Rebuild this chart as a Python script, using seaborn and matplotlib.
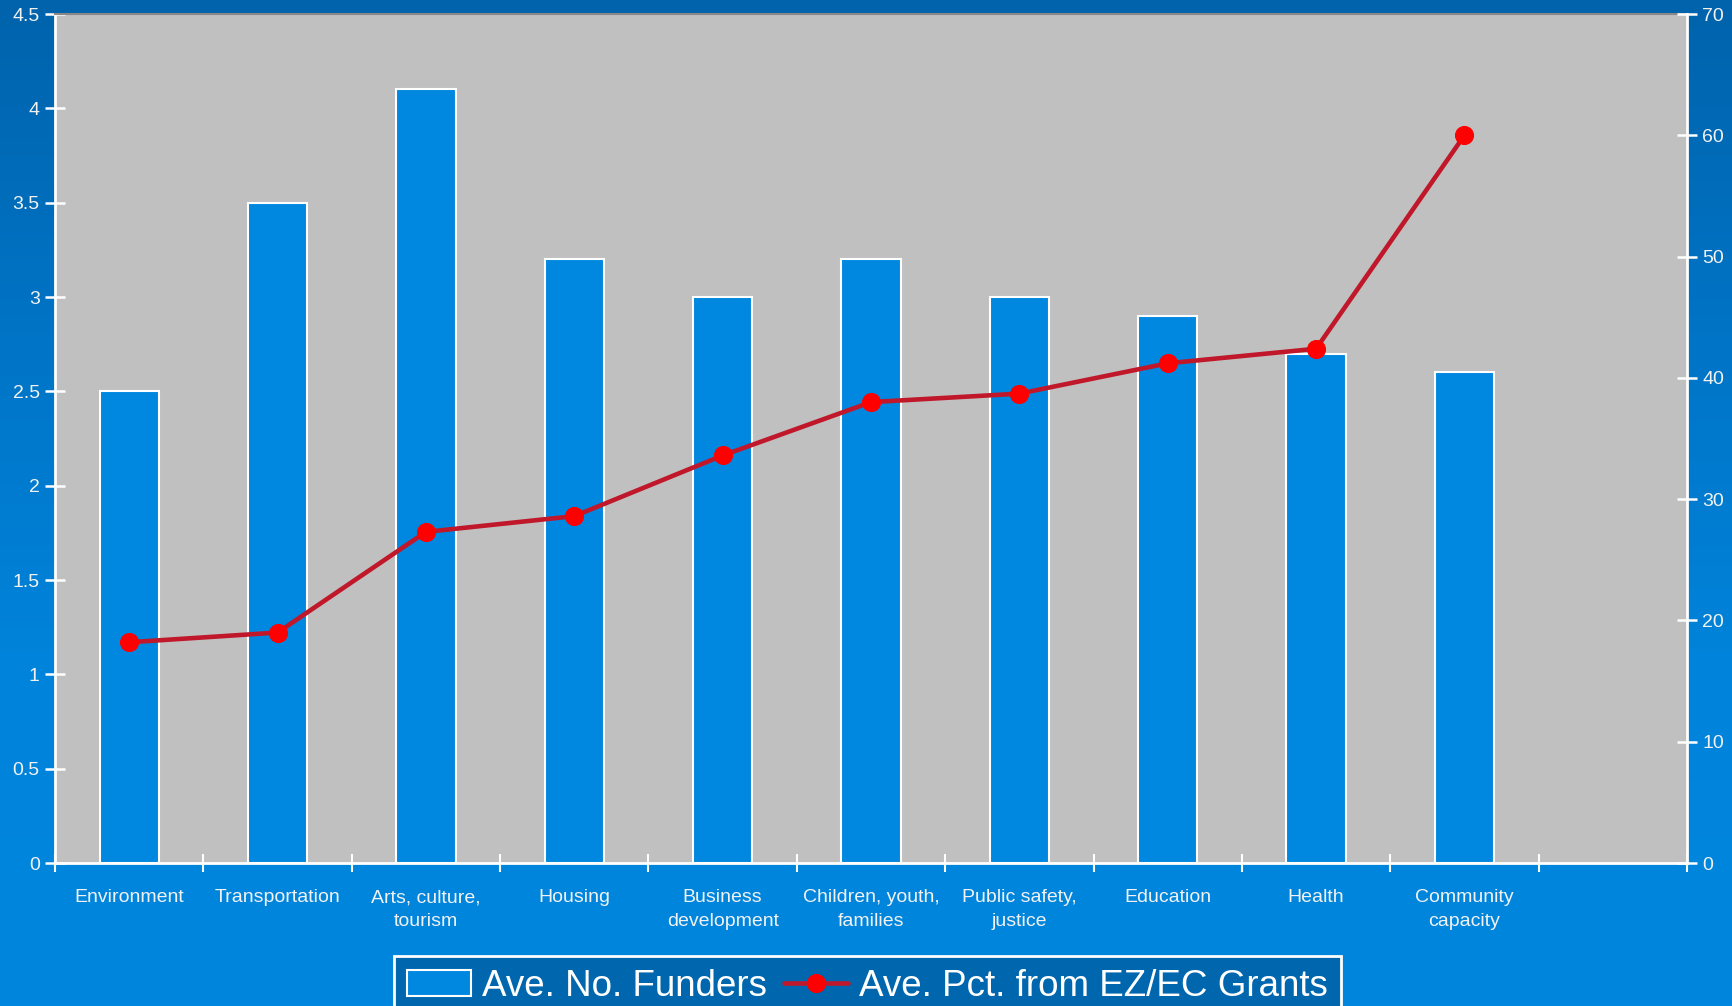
import numpy as np
import pandas as pd
import matplotlib
matplotlib.use("Agg")
import matplotlib.pyplot as plt
from matplotlib.colors import LinearSegmentedColormap
from matplotlib.ticker import FixedLocator
import seaborn as sns

categories = ["Environment", "Transportation", "Arts, culture,\ntourism", "Housing",
              "Business\ndevelopment", "Children, youth,\nfamilies", "Public safety,\njustice",
              "Education", "Health", "Community\ncapacity"]
funders = [2.5, 3.5, 4.1, 3.2, 3.0, 3.2, 3.0, 2.9, 2.7, 2.6]
pct_grants = [18.2, 19.0, 27.3, 28.6, 33.6, 38.0, 38.7, 41.2, 42.4, 60.0]
left_ticks = [0, 0.5, 1, 1.5, 2, 2.5, 3, 3.5, 4, 4.5]
left_tick_labels = ["0", "0.5", "1", "1.5", "2", "2.5", "3", "3.5", "4", "4.5"]
right_ticks = [0, 10, 20, 30, 40, 50, 60, 70]

df = pd.DataFrame({"category": categories, "funders": funders,
                   "pct": pct_grants, "pos": np.arange(len(categories))})

sns.set_theme(style="white")
plt.rcParams['font.family'] = ['Liberation Sans', 'DejaVu Sans']

W, H = 1733, 1006
fig = plt.figure(figsize=(W / 100, H / 100), dpi=100)

# background gradient
bg = fig.add_axes([0, 0, 1, 1], zorder=-10)
cmap = LinearSegmentedColormap.from_list("bg", ["#0063AC", "#0074C6", "#0084DB", "#0086DE"])
grad = np.linspace(0, 1, 256).reshape(-1, 1)
bg.imshow(grad, cmap=cmap, aspect="auto", extent=[0, 1, 0, 1], origin="upper")
bg.set_axis_off()

ax = fig.add_axes([55 / W, 1 - 863 / H, (1687 - 55) / W, (863 - 14) / H])
ax.set_facecolor("#C0C0C0")

sns.barplot(data=df, x="category", y="funders", ax=ax, color="#0088E0",
            saturation=1, width=0.4, edgecolor="white", linewidth=1.5,
            label="Ave. No. Funders")
ax.set_xlim(-0.5, 10.5)
ax.set_ylim(0, 4.5)
ax.set_xlabel("")
ax.set_ylabel("")

ax2 = ax.twinx()
sns.lineplot(data=df, x="pos", y="pct", ax=ax2, color="#C0182A", linewidth=3.3,
             marker="o", markersize=13, markerfacecolor="#FF0000",
             markeredgecolor="#FF0000", label="Ave. Pct. from EZ/EC Grants")
ax2.set_ylim(0, 70)
ax2.set_xlim(-0.5, 10.5)
ax2.set_ylabel("")
ax2.set_xlabel("")
if ax2.get_legend():
    ax2.get_legend().remove()
if ax.get_legend():
    ax.get_legend().remove()

tick_col = "white"
lab_col = "#F2F2F2"

# x ticks: labels at centres, marks at boundaries
ax.xaxis.set_major_locator(FixedLocator(list(range(len(categories)))))
ax.set_xticklabels(categories, color=lab_col, fontsize=14, linespacing=1.5)
ax.xaxis.set_minor_locator(FixedLocator(list(np.arange(-0.5, 11, 1.0))))
ax.tick_params(axis="x", which="major", length=0, pad=19)
ax.tick_params(axis="x", which="minor", length=13, width=1.5, direction="inout",
               color=tick_col, bottom=True)

ax.set_yticks(left_ticks)
ax.set_yticklabels(left_tick_labels)
ax.tick_params(axis="y", length=14, width=1.8, direction="inout", color=tick_col,
               labelcolor=lab_col, labelsize=14, pad=4, left=True)

ax2.set_yticks(right_ticks)
ax2.tick_params(axis="y", length=14, width=1.8, direction="inout", color=tick_col,
                labelcolor=lab_col, labelsize=14, pad=4, right=True)
ax2.tick_params(axis="x", which="both", length=0, labelbottom=False)

for a in (ax, ax2):
    for s in a.spines.values():
        s.set_visible(False)
ax.spines["left"].set_visible(True)
ax.spines["left"].set_color("white")
ax.spines["left"].set_linewidth(2)
ax.spines["bottom"].set_visible(True)
ax.spines["bottom"].set_color("white")
ax.spines["bottom"].set_linewidth(2)
ax.spines["top"].set_visible(True)
ax.spines["top"].set_color("#888888")
ax.spines["top"].set_linewidth(1.5)
ax2.spines["right"].set_visible(True)
ax2.spines["right"].set_color("white")
ax2.spines["right"].set_linewidth(2)

h1, l1 = ax.get_legend_handles_labels()
h2, l2 = ax2.get_legend_handles_labels()
leg = fig.legend(h1 + h2, l1 + l2, loc="upper center", bbox_to_anchor=(0.5005, 1 - 956 / H),
                 ncol=2, fontsize=26.5, frameon=True, fancybox=False, framealpha=1,
                 facecolor="#0066AE", edgecolor="white", borderaxespad=0,
                 handlelength=1.75, handletextpad=0.3, columnspacing=0.45, borderpad=0.35)
leg.get_frame().set_linewidth(2)
for t in leg.get_texts():
    t.set_color("white")

fig.savefig("out.png", dpi=100, facecolor=fig.get_facecolor())
